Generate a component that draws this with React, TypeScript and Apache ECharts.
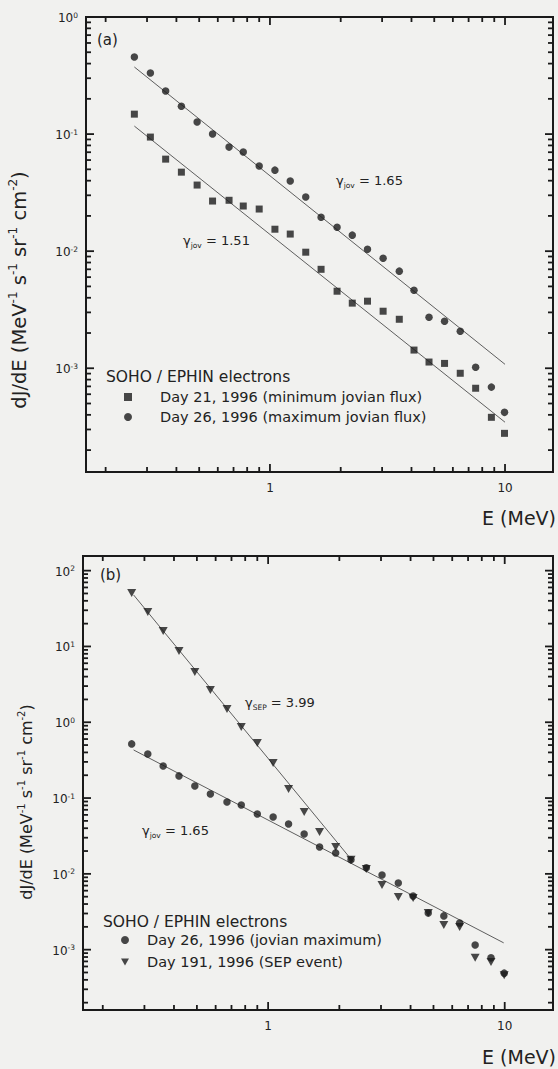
import React, { useEffect, useRef } from 'react';
import * as echarts from 'echarts';

// ---------- data ----------
const ENERGY_MEV = [0.265, 0.31, 0.36, 0.42, 0.49, 0.57, 0.67, 0.77, 0.9, 1.05, 1.22, 1.42, 1.65, 1.93, 2.24, 2.6, 3.03, 3.55, 4.1, 4.75, 5.53, 6.45, 7.5, 8.75, 9.95];

// panel (a)
const DAY21_MIN_FLUX = [0.148, 0.0943, 0.0611, 0.0473, 0.0367, 0.0268, 0.0272, 0.0243, 0.0229, 0.0154, 0.014, 0.0098, 0.007, 0.00455, 0.0036, 0.00374, 0.00307, 0.00262, 0.00143, 0.00113, 0.0011, 0.000906, 0.000675, 0.000381, 0.000278];
const DAY26_MAX_FLUX = [0.455, 0.332, 0.233, 0.173, 0.127, 0.1, 0.0774, 0.0702, 0.0533, 0.0492, 0.0397, 0.029, 0.0195, 0.016, 0.0137, 0.0104, 0.0087, 0.00675, 0.00464, 0.00273, 0.00252, 0.00207, 0.00102, 0.00069, 0.00042];
const FIT_A_ENERGY = [0.265, 10];
const FIT_A_GAMMA165 = [0.374, 0.00108];
const FIT_A_GAMMA151 = [0.117, 0.000346];

// panel (b)
const DAY26_JOV_FLUX = [0.518, 0.382, 0.265, 0.196, 0.144, 0.113, 0.0888, 0.0811, 0.0617, 0.0563, 0.0455, 0.0336, 0.0226, 0.0189, 0.0153, 0.012, 0.00967, 0.00759, 0.00511, 0.00305, 0.00279, 0.00225, 0.00115, 0.00078, 0.00049];
const DAY191_SEP_FLUX = [50.8, 28.5, 16.0, 8.73, 4.61, 2.67, 1.5, 0.867, 0.533, 0.29, 0.132, 0.0656, 0.0357, 0.0226, 0.0153, 0.0116, 0.00714, 0.00496, 0.00481, 0.00305, 0.00212, 0.00199, 0.00078, 0.00069, 0.00046];
const FIT_B_SEP_ENERGY = [0.27, 2.29];
const FIT_B_SEP_FLUX = [47.8, 0.0144];
const FIT_B_JOV_ENERGY = [0.27, 9.9];
const FIT_B_JOV_FLUX = [0.431, 0.00123];

// axes
const X_RANGE = [0.165, 16];
const Y_RANGE_A = [1.3e-4, 1];
const Y_RANGE_B = [1.6e-4, 156];
const X_MAJOR = [1, 10];
const X_MAJOR_LABELS = ['1', '10'];
const X_MINOR = [0.2, 0.3, 0.4, 0.5, 0.6, 0.7, 0.8, 0.9, 2, 3, 4, 5, 6, 7, 8, 9];
const Y_MAJOR_A = [0.001, 0.01, 0.1, 1];
const Y_MAJOR_A_EXP = ['-3', '-2', '-1', '0'];
const Y_MAJOR_B = [0.001, 0.01, 0.1, 1, 10, 100];
const Y_MAJOR_B_EXP = ['-3', '-2', '-1', '0', '1', '2'];
const MINOR_STEPS = [2, 3, 4, 5, 6, 7, 8, 9];
const Y_DECADES_A = [1e-4, 1e-3, 1e-2, 1e-1];
const Y_DECADES_B = [1e-4, 1e-3, 1e-2, 1e-1, 1, 10, 100];

const NAME_A_MIN = 'Day 21, 1996 (minimum jovian flux)';
const NAME_A_MAX = 'Day 26, 1996 (maximum jovian flux)';
const NAME_B_JOV = 'Day 26, 1996 (jovian maximum)';
const NAME_B_SEP = 'Day 191, 1996 (SEP event)';

const FONT = '"DejaVu Sans", "Liberation Sans", sans-serif';
const INK = '#222222';
const MARK = '#1c1c1c';
const TICK_COLOR = '#1a1a1a';
const TRIANGLE = 'path://M0,0 L10,0 L5,9 Z';

function minorOf(decades: number[], range: number[]) {
  const out: number[] = [];
  decades.forEach((d) => MINOR_STEPS.forEach((s) => {
    const v = s * d;
    if (v > range[0] && v < range[1]) out.push(v);
  }));
  return out;
}

// labels + tick marks in one custom series; positions come from api.coord
function axisSeries(gi: number, yRange: number[], yMajor: number[], yExp: string[], yMinor: number[]) {
  const data: number[][] = [];
  const kinds: number[] = []; // 0 x major, 1 x minor, 2 y major, 3 y minor
  const texts: string[] = [];
  X_MAJOR.forEach((v, i) => { data.push([v, yRange[0]]); kinds.push(0); texts.push(X_MAJOR_LABELS[i]); });
  X_MINOR.forEach((v) => { data.push([v, yRange[0]]); kinds.push(1); texts.push(''); });
  yMajor.forEach((v, i) => { data.push([X_RANGE[0], v]); kinds.push(2); texts.push(yExp[i]); });
  yMinor.forEach((v) => { data.push([X_RANGE[0], v]); kinds.push(3); texts.push(''); });
  return {
    type: 'custom',
    xAxisIndex: gi,
    yAxisIndex: gi,
    silent: true,
    z: 10,
    data,
    renderItem: (params: any, api: any) => {
      const idx = params.dataIndex;
      const k = kinds[idx];
      const cs = params.coordSys;
      const p = api.coord([api.value(0), api.value(1)]);
      const len = k === 0 || k === 2 ? 8 : 5;
      const st = { stroke: TICK_COLOR, lineWidth: 1.8 };
      const children: any[] = [];
      if (k <= 1) {
        const x = p[0];
        const b = cs.y + cs.height;
        children.push({ type: 'line', shape: { x1: x, y1: b, x2: x, y2: b - len }, style: st });
        children.push({ type: 'line', shape: { x1: x, y1: cs.y, x2: x, y2: cs.y + len }, style: st });
        if (k === 0) {
          children.push({
            type: 'text', x, y: b + 16,
            style: { text: texts[idx], fontFamily: FONT, fontSize: 12, fill: INK, align: 'center', verticalAlign: 'middle' },
          });
        }
      } else {
        const y = p[1];
        const r = cs.x + cs.width;
        children.push({ type: 'line', shape: { x1: cs.x, y1: y, x2: cs.x + len, y2: y }, style: st });
        children.push({ type: 'line', shape: { x1: r, y1: y, x2: r - len, y2: y }, style: st });
        if (k === 2) {
          children.push({
            type: 'text', x: cs.x - 8, y: y + 1,
            style: {
              text: '{b|10}{s|' + texts[idx] + '}',
              align: 'right',
              verticalAlign: 'middle',
              rich: {
                b: { fontFamily: FONT, fontSize: 12, fill: INK, lineHeight: 14 },
                s: { fontFamily: FONT, fontSize: 7.5, fill: INK, lineHeight: 9, verticalAlign: 'top' },
              },
            },
          });
        }
      }
      return { type: 'group', children };
    },
  };
}

function scatter(name: string, gi: number, flux: number[], symbol: string, size: any) {
  return {
    type: 'scatter',
    name,
    xAxisIndex: gi,
    yAxisIndex: gi,
    symbol,
    symbolSize: size,
    itemStyle: { color: MARK },
    data: ENERGY_MEV.map((e, i) => [e, flux[i]]),
    z: 5,
  };
}

function fitLine(gi: number, es: number[], fs: number[]) {
  return {
    type: 'line',
    xAxisIndex: gi,
    yAxisIndex: gi,
    symbol: 'none',
    silent: true,
    lineStyle: { color: '#5e5e5e', width: 1 },
    data: es.map((e, i) => [e, fs[i]]),
    z: 3,
  };
}

function gammaText(x: number, y: number, sub: string, val: string) {
  return {
    type: 'text',
    left: x,
    top: y - 9,
    style: {
      text: '{g|γ}{s|' + sub + '}{m| = ' + val + '}',
      rich: {
        g: { fontFamily: FONT, fontSize: 13, fill: INK, lineHeight: 18 },
        s: { fontFamily: FONT, fontSize: 7.5, fill: INK, lineHeight: 10, verticalAlign: 'bottom' },
        m: { fontFamily: FONT, fontSize: 13, fill: INK, lineHeight: 18 },
      },
    },
  };
}

function yTitle(x: number, y: number, fs: number) {
  const sup = Math.round(fs * 0.6);
  return {
    type: 'text',
    x,
    y,
    rotation: Math.PI / 2,
    style: {
      text: '{m|dJ/dE (MeV}{s|-1}{m| s}{s|-1}{m| sr}{s|-1}{m| cm}{s|-2}{m|)}',
      align: 'center',
      verticalAlign: 'middle',
      rich: {
        m: { fontFamily: FONT, fontSize: fs, fill: INK, lineHeight: fs + 4 },
        s: { fontFamily: FONT, fontSize: sup, fill: INK, lineHeight: sup + 2, verticalAlign: 'top' },
      },
    },
  };
}

function plainText(x: number, y: number, text: string, fs: number, align = 'left') {
  return {
    type: 'text',
    x,
    y,
    style: { text, fontFamily: FONT, fontSize: fs, fill: INK, align, verticalAlign: 'middle' },
  };
}

function buildOption() {
  const hidden = { axisLine: { show: false }, axisTick: { show: false }, axisLabel: { show: false }, splitLine: { show: false } };
  return {
    animation: false,
    backgroundColor: '#f1f1ef',
    grid: [
      { left: 86, top: 17, right: 5, bottom: 597, show: true, borderColor: '#1a1a1a', borderWidth: 2 },
      { left: 83, top: 556, right: 5, bottom: 59, show: true, borderColor: '#1a1a1a', borderWidth: 2 },
    ],
    xAxis: [
      { type: 'log', logBase: 10, gridIndex: 0, min: X_RANGE[0], max: X_RANGE[1], ...hidden },
      { type: 'log', logBase: 10, gridIndex: 1, min: X_RANGE[0], max: X_RANGE[1], ...hidden },
    ],
    yAxis: [
      { type: 'log', logBase: 10, gridIndex: 0, min: Y_RANGE_A[0], max: Y_RANGE_A[1], ...hidden },
      { type: 'log', logBase: 10, gridIndex: 1, min: Y_RANGE_B[0], max: Y_RANGE_B[1], ...hidden },
    ],
    legend: [
      {
        data: [NAME_A_MIN, NAME_A_MAX],
        orient: 'vertical', left: 124, top: 389.5, padding: 0, itemGap: 5,
        itemWidth: 8, itemHeight: 8, selectedMode: false,
        textStyle: { fontFamily: FONT, fontSize: 14.5, color: INK, lineHeight: 15, padding: [0, 0, 0, 23] },
      },
      {
        data: [NAME_B_JOV, NAME_B_SEP],
        orient: 'vertical', left: 121, top: 932.5, padding: 0, itemGap: 7,
        itemWidth: 8, itemHeight: 8, selectedMode: false,
        textStyle: { fontFamily: FONT, fontSize: 14.5, color: INK, lineHeight: 15, padding: [0, 0, 0, 13] },
      },
    ],
    graphic: [
      plainText(97, 40, '(a)', 15),
      plainText(100, 575, '(b)', 15),
      gammaText(336, 183, 'jov', '1.65'),
      gammaText(183, 243, 'jov', '1.51'),
      gammaText(245, 705, 'SEP', '3.99'),
      gammaText(142, 833, 'jov', '1.65'),
      plainText(106, 377, 'SOHO / EPHIN electrons', 15.5),
      plainText(103, 922, 'SOHO / EPHIN electrons', 15.5),
      plainText(556, 518, 'E (MeV)', 19, 'right'),
      plainText(556, 1057, 'E (MeV)', 19, 'right'),
      yTitle(19, 290, 19.5),
      yTitle(26, 802, 16),
    ],
    series: [
      axisSeries(0, Y_RANGE_A, Y_MAJOR_A, Y_MAJOR_A_EXP, minorOf(Y_DECADES_A, Y_RANGE_A)),
      axisSeries(1, Y_RANGE_B, Y_MAJOR_B, Y_MAJOR_B_EXP, minorOf(Y_DECADES_B, Y_RANGE_B)),
      fitLine(0, FIT_A_ENERGY, FIT_A_GAMMA165),
      fitLine(0, FIT_A_ENERGY, FIT_A_GAMMA151),
      fitLine(1, FIT_B_SEP_ENERGY, FIT_B_SEP_FLUX),
      fitLine(1, FIT_B_JOV_ENERGY, FIT_B_JOV_FLUX),
      scatter(NAME_A_MIN, 0, DAY21_MIN_FLUX, 'rect', 7),
      scatter(NAME_A_MAX, 0, DAY26_MAX_FLUX, 'circle', 7.5),
      scatter(NAME_B_JOV, 1, DAY26_JOV_FLUX, 'circle', 7.5),
      scatter(NAME_B_SEP, 1, DAY191_SEP_FLUX, TRIANGLE, [9, 8]),
    ],
  };
}

export default function App() {
  const ref = useRef<HTMLDivElement>(null);
  useEffect(() => {
    document.body.style.margin = '0';
    document.body.style.background = '#f1f1ef';
    if (!ref.current) return;
    const chart = echarts.init(ref.current, undefined, { renderer: 'svg' });
    chart.setOption(buildOption() as any);
    return () => chart.dispose();
  }, []);
  return <div ref={ref} style={{ width: 558, height: 1069 }} />;
}
